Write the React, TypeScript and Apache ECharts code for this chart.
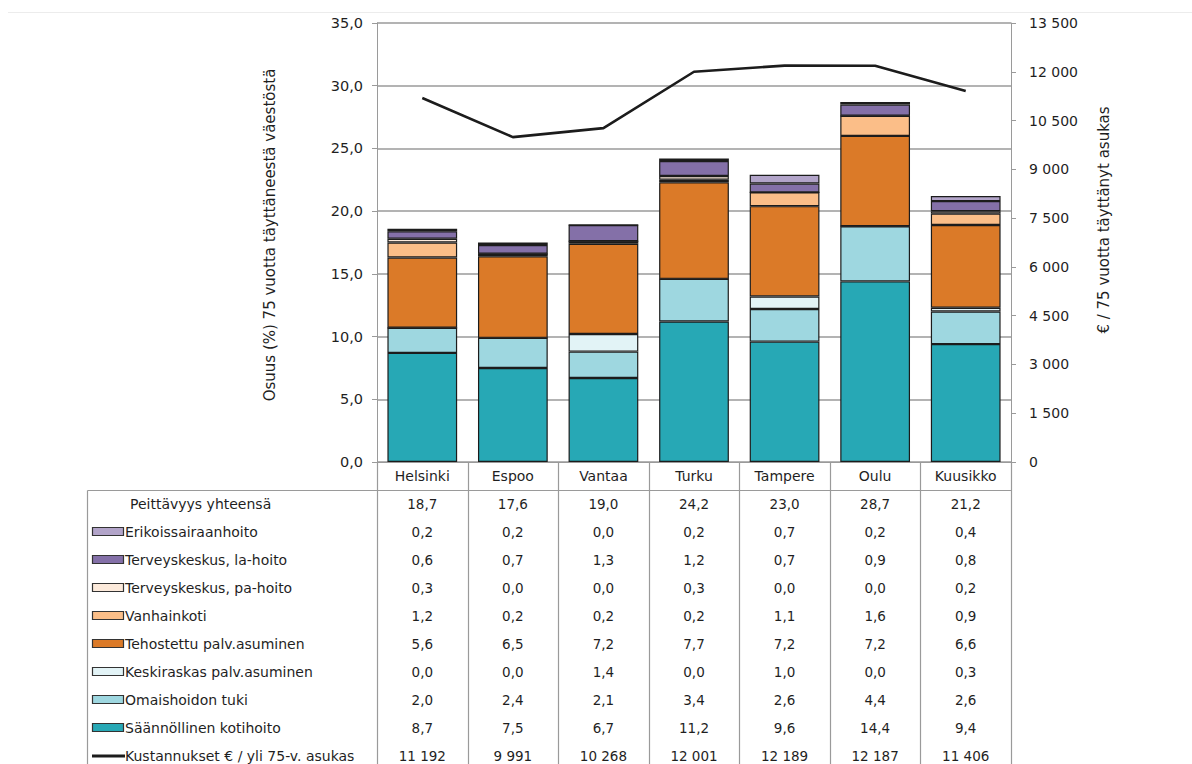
import React, { useEffect, useRef } from "react";
import * as echarts from "echarts";

const categories = ["Helsinki", "Espoo", "Vantaa", "Turku", "Tampere", "Oulu", "Kuusikko"];
const kotihoito = [8.7, 7.5, 6.7, 11.2, 9.6, 14.4, 9.4];
const omaishoito = [2.0, 2.4, 2.1, 3.4, 2.6, 4.4, 2.6];
const keskiraskas = [0.0, 0.0, 1.4, 0.0, 1.0, 0.0, 0.3];
const tehostettu = [5.6, 6.5, 7.2, 7.7, 7.2, 7.2, 6.6];
const vanhainkoti = [1.2, 0.2, 0.2, 0.2, 1.1, 1.6, 0.9];
const paHoito = [0.3, 0.0, 0.0, 0.3, 0.0, 0.0, 0.2];
const laHoito = [0.6, 0.7, 1.3, 1.2, 0.7, 0.9, 0.8];
const erikois = [0.2, 0.2, 0.0, 0.2, 0.7, 0.2, 0.4];
const peittavyys = [18.7, 17.6, 19.0, 24.2, 23.0, 28.7, 21.2];
const kustannukset = [11192, 9991, 10268, 12001, 12189, 12187, 11406];

const leftTitle = "Osuus (%) 75 vuotta täyttäneestä väestöstä";
const rightTitle = "€ / 75 vuotta täyttänyt asukas";
const totalLabel = "Peittävyys yhteensä";
const costLabel = "Kustannukset € / yli 75-v. asukas";

// stack order bottom -> top
const stackSeries = [
  { name: "Säännöllinen kotihoito", data: kotihoito, color: "#27A8B5" },
  { name: "Omaishoidon tuki", data: omaishoito, color: "#9ED7E0" },
  { name: "Keskiraskas palv.asuminen", data: keskiraskas, color: "#E2F3F6" },
  { name: "Tehostettu palv.asuminen", data: tehostettu, color: "#DB7A28" },
  { name: "Vanhainkoti", data: vanhainkoti, color: "#FBBE88" },
  { name: "Terveyskeskus, pa-hoito", data: paHoito, color: "#FCEADB" },
  { name: "Terveyskeskus, la-hoito", data: laHoito, color: "#8470A8" },
  { name: "Erikoissairaanhoito", data: erikois, color: "#B2A4C9" },
];

const FONT = "'DejaVu Sans', sans-serif";
const TXT = "#1f1f1f";
const GRID = "#9a9a9a";

const fmt1 = (v: number) => v.toFixed(1).replace(".", ",");
const fmtK = (v: number) => String(Math.round(v)).replace(/\B(?=(\d{3})+(?!\d))/g, "\u00a0");

export default function App() {
  const ref = useRef<HTMLDivElement>(null);
  useEffect(() => {
    if (!ref.current) return;
    const chart = echarts.init(ref.current, null, { renderer: "svg" });
    const option: any = {
      animation: false,
      textStyle: { fontFamily: FONT },
      grid: { left: 377, right: 181, top: 23, bottom: 302, containLabel: false },
      xAxis: {
        type: "category",
        data: categories,
        axisLine: { show: true, lineStyle: { color: GRID, width: 1 } },
        axisTick: { show: false },
        axisLabel: { color: TXT, fontSize: 14, fontFamily: FONT, margin: 7, interval: 0 },
        splitLine: { show: false },
      },
      yAxis: [
        {
          type: "value",
          min: 0,
          max: 35,
          interval: 5,
          axisLine: { show: true, lineStyle: { color: GRID, width: 1 } },
          axisTick: { show: true, length: 5, lineStyle: { color: GRID } },
          axisLabel: { color: TXT, fontSize: 14.5, fontFamily: FONT, margin: 14, formatter: (v: number) => fmt1(v) },
          splitLine: { show: true, lineStyle: { color: GRID, width: 1.5 } },
        },
        {
          type: "value",
          position: "right",
          min: 0,
          max: 13500,
          interval: 1500,
          axisLine: { show: true, lineStyle: { color: GRID, width: 1 } },
          axisTick: { show: true, length: 5, lineStyle: { color: GRID } },
          axisLabel: { color: TXT, fontSize: 14, fontFamily: FONT, margin: 18, formatter: (v: number) => fmtK(v) },
          splitLine: { show: false },
        },
      ],
      series: [
        ...stackSeries.map((s) => ({
          name: s.name,
          type: "bar",
          stack: "total",
          yAxisIndex: 0,
          barWidth: "77%",
          data: s.data,
          itemStyle: { color: s.color, borderColor: "#1c1c1c", borderWidth: 1.2 },
        })),
        {
          name: costLabel,
          type: "line",
          yAxisIndex: 1,
          data: kustannukset,
          symbol: "none",
          lineStyle: { color: "#1c1c1c", width: 2.6 },
          z: 5,
        },
      ],
    };
    chart.setOption(option);

    const xs = categories.map((c) => chart.convertToPixel({ xAxisIndex: 0 }, c) as number);
    const band = xs[1] - xs[0];
    const y0 = chart.convertToPixel({ yAxisIndex: 0 }, 0) as number;
    const tableTop = 490.5;
    const tableLeft = 87.5;
    const rowY0 = 504;
    const rowH = 28;
    const bottom = 764;

    const g: any[] = [];
    // faint top rule
    g.push({ type: "line", shape: { x1: 8, y1: 12.5, x2: 1192, y2: 12.5 }, style: { stroke: "#ececec", lineWidth: 1 }, silent: true });
    // titles
    g.push({
      type: "text", x: 270, y: 235, rotation: Math.PI / 2,
      style: { text: leftTitle, fill: TXT, font: `15px ${FONT}`, textAlign: "center", textVerticalAlign: "middle" },
    });
    g.push({
      type: "text", x: 1104, y: 220, rotation: Math.PI / 2,
      style: { text: rightTitle, fill: TXT, font: `15px ${FONT}`, textAlign: "center", textVerticalAlign: "middle" },
    });
    // table lines
    const rightEdge = Math.round(xs[xs.length - 1] + band / 2) + 0.5;
    g.push({ type: "line", shape: { x1: tableLeft, y1: tableTop, x2: rightEdge, y2: tableTop }, style: { stroke: GRID, lineWidth: 1.2 } });
    g.push({ type: "line", shape: { x1: tableLeft, y1: tableTop, x2: tableLeft, y2: bottom }, style: { stroke: GRID, lineWidth: 1.2 } });
    for (let k = 0; k <= categories.length; k++) {
      const x = Math.round(xs[0] - band / 2 + k * band) + 0.5;
      g.push({ type: "line", shape: { x1: x, y1: Math.round(y0), x2: x, y2: bottom }, style: { stroke: GRID, lineWidth: 1.2 } });
    }

    const rows: { label: string; color?: string; line?: boolean; values: string[]; indent?: boolean }[] = [];
    rows.push({ label: totalLabel, values: peittavyys.map(fmt1), indent: true });
    for (let i = stackSeries.length - 1; i >= 0; i--) {
      const s = stackSeries[i];
      rows.push({ label: s.name, color: s.color, values: s.data.map(fmt1) });
    }
    rows.push({ label: costLabel, line: true, values: kustannukset.map(fmtK) });

    rows.forEach((r, ri) => {
      const y = rowY0 + ri * rowH;
      if (r.color) {
        g.push({
          type: "rect",
          shape: { x: 92.5, y: y - 4.5, width: 31, height: 8 },
          style: { fill: r.color, stroke: "#333", lineWidth: 1.2 },
        });
      }
      if (r.line) {
        g.push({ type: "line", shape: { x1: 92, y1: y, x2: 125, y2: y }, style: { stroke: "#1c1c1c", lineWidth: 3 } });
      }
      g.push({
        type: "text", x: r.indent ? 130 : 125, y,
        style: { text: r.label, fill: TXT, font: `14px ${FONT}`, textAlign: "left", textVerticalAlign: "middle" },
      });
      r.values.forEach((v, ci) => {
        g.push({
          type: "text", x: xs[ci], y,
          style: { text: v, fill: TXT, font: `13.5px ${FONT}`, textAlign: "center", textVerticalAlign: "middle" },
        });
      });
    });

    chart.setOption({ graphic: { elements: g } });
    return () => chart.dispose();
  }, []);

  return (
    <div
      ref={ref}
      style={{ position: "fixed", left: 0, top: 0, width: 1192, height: 764, background: "#fff" }}
    />
  );
}
